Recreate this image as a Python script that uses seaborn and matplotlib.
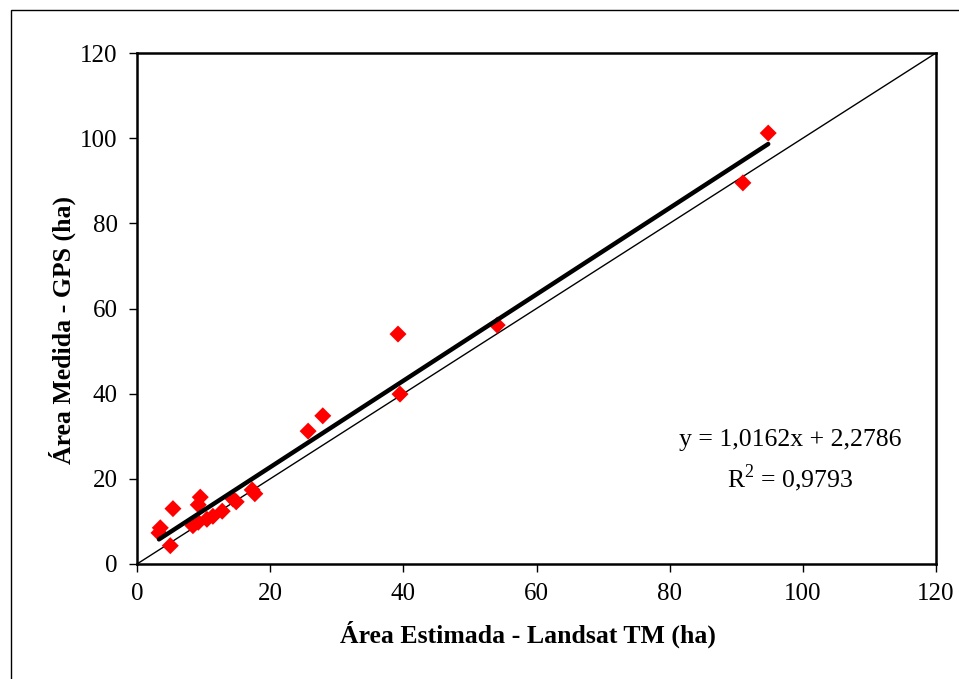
import matplotlib
matplotlib.use("Agg")
import matplotlib.pyplot as plt
import seaborn as sns
import numpy as np
import pandas as pd
from matplotlib.patches import Rectangle

# Data
area_landsat = [94.8, 91.0, 54.1, 39.2, 39.5, 27.9, 25.7, 17.3, 17.7, 14.4, 14.9,
                9.5, 9.2, 5.4, 3.5, 3.3, 5.0, 8.4, 9.2, 10.5, 11.4, 12.8]
area_gps = [101.2, 89.5, 56.1, 54.0, 39.9, 34.8, 31.2, 17.4, 16.5, 15.3, 14.6,
            15.7, 13.9, 13.0, 8.5, 7.3, 4.3, 9.0, 9.8, 10.5, 11.2, 12.4]
ticks = [0, 20, 40, 60, 80, 100, 120]
eq_text = "y = 1,0162x + 2,2786"
r2_text = "R$^2$ = 0,9793"

df = pd.DataFrame({"x": area_landsat, "y": area_gps})

sns.set_style("white")
plt.rcParams['font.family'] = ['Liberation Serif', 'DejaVu Serif']
plt.rcParams['mathtext.fontset'] = 'custom'
plt.rcParams['mathtext.rm'] = 'Liberation Serif'
plt.rcParams['text.color'] = 'black'
plt.rcParams['axes.labelcolor'] = 'black'

fig = plt.figure(figsize=(9.59, 6.79), dpi=100)
ax = fig.add_axes([137/959, 1 - 564/679, (936 - 137)/959, (564 - 53)/679])

# 1:1 line
ax.plot([0, 120], [0, 120], color="black", lw=1.0, zorder=2)

sns.regplot(data=df, x="x", y="y", ax=ax, ci=None, marker="D",
            scatter_kws={"s": 75, "color": "#ff0000", "edgecolors": "none",
                         "alpha": 1.0, "zorder": 3},
            line_kws={"color": "black", "lw": 3.2, "zorder": 4})

ax.set_xlim(0, 120)
ax.set_ylim(0, 120)
ax.set_xticks(ticks)
ax.set_yticks(ticks)
ax.set_xticklabels([str(t) for t in ticks], fontsize=18)
ax.set_yticklabels([str(t) for t in ticks], fontsize=18)
ax.tick_params(axis="both", direction="out", length=6, width=1, colors="black",
               bottom=True, left=True, pad=8)
for s in ax.spines.values():
    s.set_visible(True)
    s.set_color("black")
    s.set_linewidth(1.8)

ax.set_xlabel("Área Estimada - Landsat TM (ha)", fontsize=18.5, fontweight="bold")
ax.set_ylabel("Área Medida - GPS (ha)", fontsize=18.5, fontweight="bold")
ax.xaxis.set_label_coords(0.489, -0.110)
ax.yaxis.set_label_coords(-0.0765, 0.458)

ax.text(0.818, 0.243, eq_text, transform=ax.transAxes, ha="center", va="center", fontsize=18.5)
ax.text(0.818, 0.168, r2_text, transform=ax.transAxes, ha="center", va="center", fontsize=18.5)

# outer chart-area border
fig.patches.append(Rectangle((11/959, -0.05), 1.1, 1 - 10/679 + 0.05,
                             transform=fig.transFigure, fill=False,
                             edgecolor="black", lw=1.0))

fig.savefig("out.png", dpi=100)
